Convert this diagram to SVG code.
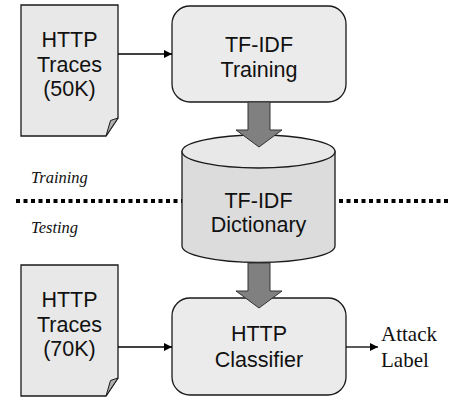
<svg xmlns="http://www.w3.org/2000/svg" width="449" height="398" viewBox="0 0 449 398">
<defs>
<style>
.doc{fill:#e8e8e8;stroke:#1a1a1a;stroke-width:1.3}
.fold{fill:#b0b0b0;stroke:#1a1a1a;stroke-width:1}
.box{fill:#ebebeb;stroke:#1a1a1a;stroke-width:1.3}
.cylside{fill:#dcdcdc;stroke:#1a1a1a;stroke-width:1.3}
.cyltop{fill:#e8e8e8;stroke:#1a1a1a;stroke-width:1.3}
.lbl{font-family:"Liberation Sans",Arial,sans-serif;font-size:21.5px;fill:#111;text-anchor:middle}
.ser{font-family:"Liberation Serif","Times New Roman",serif;font-size:21px;fill:#111}
.it{font-family:"Liberation Serif","Times New Roman",serif;font-style:italic;font-size:16.5px;fill:#111}
.conn{stroke:#000;stroke-width:1.3;fill:none}
.big{fill:#808080;stroke:#333;stroke-width:1}
.dots{stroke:#000;stroke-width:4;stroke-dasharray:4 3.5;fill:none}
</style>
<marker id="ah" viewBox="0 0 10 10" refX="10" refY="5" markerWidth="8" markerHeight="8" markerUnits="userSpaceOnUse" orient="auto">
<path d="M0,0 L10,5 L0,10 Z" fill="#000"/>
</marker>
</defs>

<g id="separator">
<line class="dots" x1="16" y1="201" x2="183" y2="201"/>
<line class="dots" x1="339" y1="201" x2="449" y2="201"/>
<text class="it" x="31" y="183">Training</text>
<text class="it" x="31" y="233">Testing</text>
</g>

<g id="traces50k">
<path class="doc" d="M21,5 H118 V118 L106,136 H21 Z"/>
<path class="fold" d="M118,118 L110.5,120.5 L106,136 Z"/>
<text class="lbl" x="69.5" y="47">HTTP</text>
<text class="lbl" x="69.5" y="71.5">Traces</text>
<text class="lbl" x="69.5" y="96">(50K)</text>
</g>

<g id="tfidf-training">
<rect class="box" x="172" y="6" width="174" height="96" rx="18" ry="18"/>
<text class="lbl" x="259" y="52">TF-IDF</text>
<text class="lbl" x="259" y="77">Training</text>
</g>

<g id="tfidf-dictionary">
<path class="cylside" d="M182,151.5 V246 A76.5,16.5 0 0 0 335,246 V151.5 Z"/>
<ellipse class="cyltop" cx="258.5" cy="151.5" rx="76.5" ry="16.5"/>
<text class="lbl" x="258.5" y="208">TF-IDF</text>
<text class="lbl" x="258.5" y="232">Dictionary</text>
</g>

<g id="traces70k">
<path class="doc" d="M21,265 H118 V378 L106,396 H21 Z"/>
<path class="fold" d="M118,378 L110.5,380.5 L106,396 Z"/>
<text class="lbl" x="69.5" y="307">HTTP</text>
<text class="lbl" x="69.5" y="331.5">Traces</text>
<text class="lbl" x="69.5" y="356">(70K)</text>
</g>

<g id="http-classifier">
<rect class="box" x="172" y="298" width="174" height="97" rx="18" ry="18"/>
<text class="lbl" x="259" y="341">HTTP</text>
<text class="lbl" x="259" y="367">Classifier</text>
</g>

<g id="attack-label">
<text class="ser" x="381" y="341">Attack</text>
<text class="ser" x="381" y="367">Label</text>
</g>

<g id="connectors">
<line class="conn" x1="118" y1="54" x2="172" y2="54" marker-end="url(#ah)"/>
<line class="conn" x1="118" y1="347" x2="172" y2="347" marker-end="url(#ah)"/>
<line class="conn" x1="346" y1="347" x2="378" y2="347" stroke-width="2" marker-end="url(#ah)"/>
<path class="big" d="M248,102 H270 V130 H282 L259,147 L236,130 H248 Z"/>
<path class="big" d="M248,263 H270 V291 H282 L259,308 L236,291 H248 Z"/>
</g>
</svg>
